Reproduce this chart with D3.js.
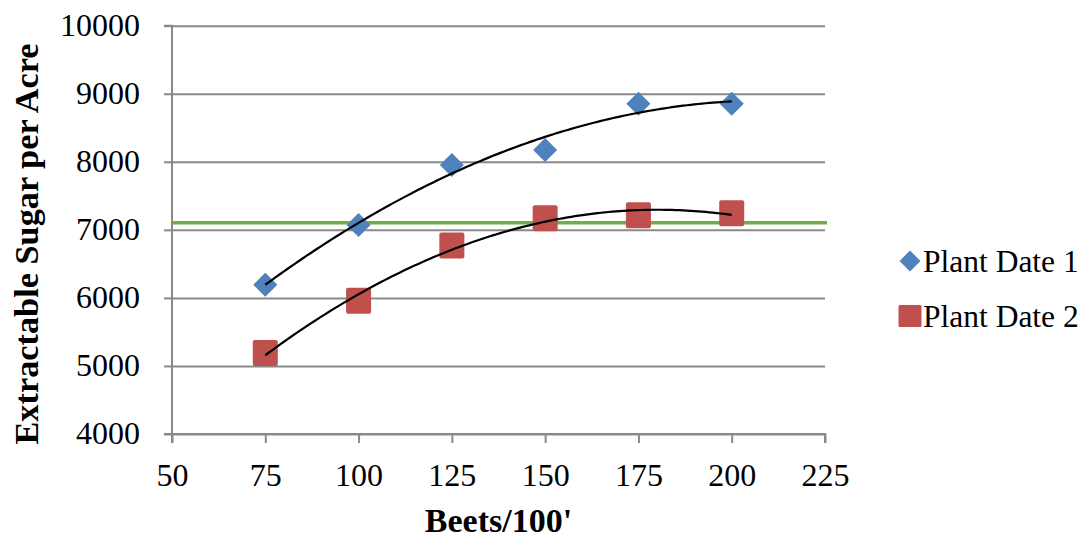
<!DOCTYPE html>
<html>
<head>
<meta charset="utf-8">
<script src="https://cdn.jsdelivr.net/npm/d3@7"></script>
<style>
  body { margin: 0; background: #fff; }
  text { font-family: "Liberation Serif", "Times New Roman", serif; fill: #000; }
</style>
</head>
<body>
<div id="chart"></div>
<script>
// Data
const beets = [75, 100, 125, 150, 175, 200]
const plantDate1 = [6194, 7071, 7953, 8173, 8854, 8854]
const plantDate2 = [5190, 5959, 6770, 7171, 7214, 7243]
const seriesNames = ['Plant Date 1', 'Plant Date 2']
const xTicks = [50, 75, 100, 125, 150, 175, 200, 225]
const yTicks = [4000, 5000, 6000, 7000, 8000, 9000, 10000]
const referenceLine = 7105

const width = 1085
const height = 540
const plot = { left: 172, right: 825, top: 25.7, bottom: 434 }

const blue = '#4F81BD'
const red = '#C0504D'
const green = '#70AD47'
const grid = '#898989'

const svg = d3
  .select('#chart')
  .append('svg')
  .attr('width', width)
  .attr('height', height)

const x = d3.scaleLinear().domain([50, 225]).range([plot.left, plot.right])
const y = d3.scaleLinear().domain([4000, 10000]).range([plot.bottom, plot.top])

// least squares, 2nd order polynomial (like the Excel trendline)
function polyFit(xs, ys) {
  const n = xs.length
  let s = [0, 0, 0, 0, 0]
  let t = [0, 0, 0]
  for (let i = 0; i < n; i++) {
    for (let k = 0; k < 5; k++) s[k] += Math.pow(xs[i], k)
    for (let k = 0; k < 3; k++) t[k] += ys[i] * Math.pow(xs[i], k)
  }
  const A = [
    [s[0], s[1], s[2], t[0]],
    [s[1], s[2], s[3], t[1]],
    [s[2], s[3], s[4], t[2]],
  ]
  for (let i = 0; i < 3; i++) {
    for (let j = i + 1; j < 3; j++) {
      const f = A[j][i] / A[i][i]
      for (let k = i; k < 4; k++) A[j][k] -= f * A[i][k]
    }
  }
  const c = [0, 0, 0]
  for (let i = 2; i >= 0; i--) {
    let v = A[i][3]
    for (let k = i + 1; k < 3; k++) v -= A[i][k] * c[k]
    c[i] = v / A[i][i]
  }
  return (v) => c[0] + c[1] * v + c[2] * v * v
}

// gridlines
svg
  .append('g')
  .attr('transform', `translate(${plot.left},0)`)
  .call(d3.axisLeft(y).tickValues(yTicks).tickSize(-(plot.right - plot.left)).tickFormat(''))
  .call((g) => g.select('.domain').remove())
  .call((g) => g.selectAll('.tick line').attr('stroke', grid).attr('stroke-width', 2))

// Y axis
svg
  .append('g')
  .attr('transform', `translate(${plot.left},0)`)
  .call(d3.axisLeft(y).tickValues(yTicks).tickSize(8).tickFormat(d3.format('d')))
  .call((g) => g.select('.domain').attr('stroke', grid).attr('stroke-width', 2).attr('d', `M-8,${plot.bottom}H0V${plot.top}H-8`))
  .call((g) => g.selectAll('.tick line').attr('stroke', grid).attr('stroke-width', 2))
  .call((g) =>
    g
      .selectAll('.tick text')
      .attr('x', -32)
      .attr('dy', 9.5)
      .style('font-size', '32px')
      .style('font-family', '"Liberation Serif", "Times New Roman", serif')
  )

// X axis
svg
  .append('g')
  .attr('transform', `translate(0,${plot.bottom})`)
  .call(d3.axisBottom(x).tickValues(xTicks).tickSize(9).tickFormat(d3.format('d')))
  .call((g) => g.select('.domain').attr('stroke', grid).attr('stroke-width', 2).attr('d', `M${plot.left},9V0H${plot.right}V9`))
  .call((g) => g.selectAll('.tick line').attr('stroke', grid).attr('stroke-width', 2))
  .call((g) =>
    g
      .selectAll('.tick text')
      .attr('y', 52)
      .attr('dy', 0)
      .style('font-size', '32px')
      .style('font-family', '"Liberation Serif", "Times New Roman", serif')
  )

// green reference line
svg
  .append('line')
  .attr('x1', x(50))
  .attr('x2', x(225) + 2)
  .attr('y1', y(referenceLine))
  .attr('y2', y(referenceLine))
  .attr('stroke', green)
  .attr('stroke-width', 3.5)

const pd1 = beets.map((b, i) => ({ x: b, y: plantDate1[i] }))
const pd2 = beets.map((b, i) => ({ x: b, y: plantDate2[i] }))

// markers: diamonds
svg
  .selectAll('.dia')
  .data(pd1)
  .enter()
  .append('path')
  .attr('class', 'dia')
  .attr('d', d3.symbol(d3.symbolSquare, 289))
  .attr('transform', (d) => `translate(${x(d.x)},${y(d.y)}) rotate(45)`)
  .attr('fill', blue)

// markers: squares
svg
  .selectAll('.sq')
  .data(pd2)
  .enter()
  .append('rect')
  .attr('class', 'sq')
  .attr('x', (d) => x(d.x) - 12.5)
  .attr('y', (d) => y(d.y) - 13)
  .attr('width', 25)
  .attr('height', 26)
  .attr('rx', 2)
  .attr('fill', red)

// trendlines
const line = d3
  .line()
  .x((d) => x(d[0]))
  .y((d) => y(d[1]))
  .curve(d3.curveLinear)

;[plantDate1, plantDate2].forEach((vals) => {
  const f = polyFit(beets, vals)
  const pts = d3.range(beets[0], beets[beets.length - 1] + 0.01, 1).map((v) => [v, f(v)])
  svg
    .append('path')
    .attr('d', line(pts))
    .attr('fill', 'none')
    .attr('stroke', '#000')
    .attr('stroke-width', 2.2)
})

// legend
const legend = svg.append('g')
legend
  .append('path')
  .attr('d', d3.symbol(d3.symbolSquare, 220))
  .attr('transform', 'translate(910,261) rotate(45)')
  .attr('fill', blue)
legend
  .append('rect')
  .attr('x', 898.5)
  .attr('y', 305)
  .attr('width', 23)
  .attr('height', 22)
  .attr('rx', 1.5)
  .attr('fill', red)
legend
  .selectAll('.lt')
  .data(seriesNames)
  .enter()
  .append('text')
  .attr('class', 'lt')
  .attr('x', 923)
  .attr('y', (d, i) => 271.5 + i * 55)
  .style('font-size', '31.5px')
  .text((d) => d)

// axis titles
svg
  .append('text')
  .attr('x', (plot.left + plot.right) / 2)
  .attr('y', 532)
  .attr('text-anchor', 'middle')
  .style('font-size', '34px')
  .style('font-weight', 'bold')
  .text("Beets/100'")

svg
  .append('text')
  .attr('transform', 'translate(38,244) rotate(-90)')
  .attr('text-anchor', 'middle')
  .style('font-size', '34.3px')
  .style('font-weight', 'bold')
  .text('Extractable Sugar per Acre')
</script>
</body>
</html>
